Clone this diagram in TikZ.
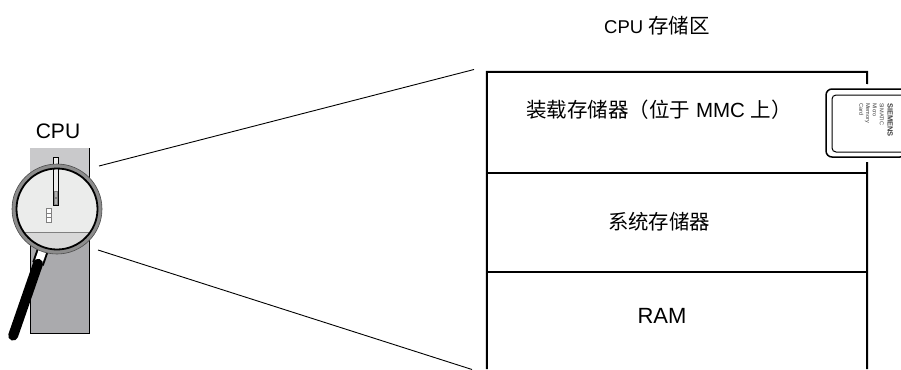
\documentclass[tikz,border=0pt]{standalone}
\usepackage{fontspec}
\setmainfont{Liberation Sans}
\newfontfamily\cjk{Noto Sans CJK SC}
\usetikzlibrary{calc}
\definecolor{cpulight}{HTML}{C9C9CB}
\definecolor{cpudark}{HTML}{AAAAAD}
\definecolor{lenslight}{HTML}{EBECEB}
\definecolor{lensgray}{HTML}{D8D8D8}
\definecolor{ringgray}{HTML}{8C8C8C}
\begin{document}
\begin{tikzpicture}[x=1pt,y=-1pt]
		\tikzstyle{layer} =[ minimum width=380pt, minimum height=101pt, inner sep=0pt];
		\tikzstyle{frame} =[ line width=2pt];
		\tikzstyle{memtext} =[ inner sep=0pt, text badly centered];
		\tikzstyle{zoomline} =[ line width=0.9pt];
		\useasboundingbox (0,0) rectangle (901,369);

		\node[memtext, font=\fontsize{18.5}{20}\selectfont] (title) at (657,26) {CPU\hspace{5pt}{\cjk\fontsize{20.5}{22}\selectfont 存储区}};
		\node[layer] (load) at (677,122.5) {};
		\node[layer, below of = load, node distance=100pt, minimum height=99pt] (sys) {};
		\node[layer, below of = sys, node distance=98pt, minimum height=97pt] (ram) {};
		\node[memtext, font=\fontsize{20.5}{22}\selectfont] (loadtxt) at (659,110) {{\cjk 装载存储器（位于} MMC {\cjk 上）}};
		\node[memtext, font=\fontsize{20.4}{22}\selectfont\cjk] (systxt) at (659,222) {系统存储器};
		\node[memtext, font=\fontsize{22}{24}\selectfont] (ramtxt) at (662,316) {RAM};

		\coordinate (gaptop) at (867,84);
		\coordinate (gapbot) at (867,162);
		\draw[frame] (ram.south west) -- (load.north west) -- (load.north east) -- (gaptop);
		\draw[frame] (gapbot) -- (ram.south east);
		\draw[frame] (load.south west) -- (load.south east);
		\draw[frame] (sys.south west) -- (sys.south east);

		\draw[line width=1.5pt, rounded corners=6pt, fill=white] (826,89) rectangle (906,157);
		\draw[line width=1pt, rounded corners=4pt] (832,95) rectangle (906,152);
		\node[rotate=-90, anchor=north west, inner sep=0pt, align=left, text=black!75, font=\fontsize{5.6}{6.8}\selectfont] (card) at (893,103)
			{{\fontsize{7.5}{8}\selectfont\bfseries SIEMENS}\\[1pt]SIMATIC\\Micro\\Memory\\Card};

		\node[memtext, font=\fontsize{21}{24}\selectfont] (cpulabel) at (58,131) {CPU};
		\node[draw, line width=0.8pt, fill=cpudark, minimum width=59pt, minimum height=185pt, inner sep=0pt] (cpu) at (59.5,240.5) {};
		\fill[cpulight] ([xshift=0.4pt,yshift=-0.4pt]cpu.north west) rectangle (88.6,232);

		\coordinate (lens) at (57,209);
		\begin{scope}
			\clip (lens) circle (41);
			\fill[lenslight] (10,160) rectangle (105,232);
			\fill[lensgray] (10,232) rectangle (105,255);
			\draw[gray, line width=0.8pt] (10,232) -- (105,232);
		\end{scope}

		\draw[line width=0.9pt, fill=white!85!gray] (53,157) rectangle (58,205);
		\draw[gray, line width=0.6pt, fill=black!30] (54,191) rectangle (57,197);
		\draw[gray, line width=0.6pt, fill=black!30] (54,198) rectangle (57,204);
		\draw[gray, line width=0.6pt, fill=white] (46,208) rectangle (51,222);
		\draw[gray, line width=0.5pt] (46,213) -- (51,213) (46,217.5) -- (51,217.5);

		\coordinate (ferrule) at ($(lens)+(109.1:42)$);
		\coordinate (grip) at ($(lens)+(109.1:58)$);
		\coordinate (tip) at ($(lens)+(109.1:134)$);
		\draw[line width=12pt] (ferrule) -- (grip);
		\draw[white, line width=8pt] ($(lens)+(109.1:44)$) -- ($(lens)+(109.1:56.5)$);
		\draw[line width=10pt, line cap=round] (grip) -- (tip);

		\draw[ringgray, line width=4pt] (lens) circle (43);
		\draw[black!70, line width=0.6pt] (lens) circle (45);
		\draw[line width=1.8pt] (lens) circle (40.5);

		\coordinate (viewtop) at (99,166);
		\coordinate (viewbot) at (98,250);
		\coordinate (fartop) at (474,69.5);
		\coordinate (farbot) at (472,369.5);
		\draw[zoomline] (viewtop) -- (fartop);
		\draw[zoomline] (viewbot) -- (farbot);
	\end{tikzpicture}
\end{document}
